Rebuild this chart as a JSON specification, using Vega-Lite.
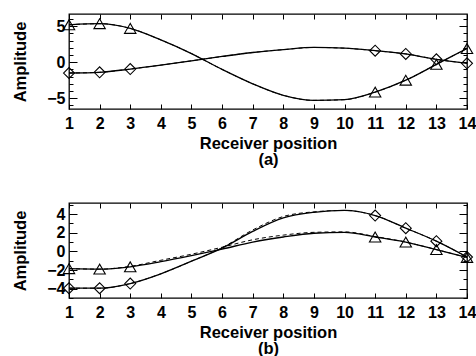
{
  "$schema": "https://vega.github.io/schema/vega-lite/v6.json",
  "padding": {"left": 12, "top": 12, "right": 0, "bottom": 0},
  "background": "white",
  "config": {
    "view": {"stroke": "black", "strokeWidth": 1.3},
    "font": "Liberation Sans",
    "axis": {"grid": false, "domain": false, "labelFont": "Liberation Sans", "titleFont": "Liberation Sans", "labelColor": "black", "titleColor": "black", "tickColor": "black", "labelFontWeight": "bold", "titleFontWeight": "bold", "labelFontSize": 16, "titleFontSize": 16.5, "labelFlush": false, "labelOverlap": false}
  },
  "datasets": {
    "curves": [
      {"panel": "a", "series": "tri", "run": "measured", "x": 1, "y": 5.2},
      {"panel": "a", "series": "tri", "run": "measured", "x": 2, "y": 5.35},
      {"panel": "a", "series": "tri", "run": "measured", "x": 3, "y": 4.7},
      {"panel": "a", "series": "tri", "run": "measured", "x": 4, "y": 3.1},
      {"panel": "a", "series": "tri", "run": "measured", "x": 5, "y": 1.2},
      {"panel": "a", "series": "tri", "run": "measured", "x": 6, "y": -1.0},
      {"panel": "a", "series": "tri", "run": "measured", "x": 7, "y": -3.0},
      {"panel": "a", "series": "tri", "run": "measured", "x": 8, "y": -4.6},
      {"panel": "a", "series": "tri", "run": "measured", "x": 9, "y": -5.3},
      {"panel": "a", "series": "tri", "run": "measured", "x": 10, "y": -5.2},
      {"panel": "a", "series": "tri", "run": "measured", "x": 11, "y": -4.15},
      {"panel": "a", "series": "tri", "run": "measured", "x": 12, "y": -2.5},
      {"panel": "a", "series": "tri", "run": "measured", "x": 13, "y": -0.3},
      {"panel": "a", "series": "tri", "run": "measured", "x": 14, "y": 1.9},
      {"panel": "a", "series": "dia", "run": "measured", "x": 1, "y": -1.5},
      {"panel": "a", "series": "dia", "run": "measured", "x": 2, "y": -1.4},
      {"panel": "a", "series": "dia", "run": "measured", "x": 3, "y": -0.95},
      {"panel": "a", "series": "dia", "run": "measured", "x": 4, "y": -0.4},
      {"panel": "a", "series": "dia", "run": "measured", "x": 5, "y": 0.2},
      {"panel": "a", "series": "dia", "run": "measured", "x": 6, "y": 0.8},
      {"panel": "a", "series": "dia", "run": "measured", "x": 7, "y": 1.35},
      {"panel": "a", "series": "dia", "run": "measured", "x": 8, "y": 1.75},
      {"panel": "a", "series": "dia", "run": "measured", "x": 9, "y": 2.05},
      {"panel": "a", "series": "dia", "run": "measured", "x": 10, "y": 1.95},
      {"panel": "a", "series": "dia", "run": "measured", "x": 11, "y": 1.6},
      {"panel": "a", "series": "dia", "run": "measured", "x": 12, "y": 1.15},
      {"panel": "a", "series": "dia", "run": "measured", "x": 13, "y": 0.4},
      {"panel": "a", "series": "dia", "run": "measured", "x": 14, "y": -0.15},
      {"panel": "a", "series": "tri", "run": "model", "x": 1, "y": 5.2},
      {"panel": "a", "series": "tri", "run": "model", "x": 2, "y": 5.35},
      {"panel": "a", "series": "tri", "run": "model", "x": 3, "y": 4.7},
      {"panel": "a", "series": "tri", "run": "model", "x": 4, "y": 3.1},
      {"panel": "a", "series": "tri", "run": "model", "x": 5, "y": 1.2},
      {"panel": "a", "series": "tri", "run": "model", "x": 6, "y": -1.0},
      {"panel": "a", "series": "tri", "run": "model", "x": 7, "y": -3.0},
      {"panel": "a", "series": "tri", "run": "model", "x": 8, "y": -4.6},
      {"panel": "a", "series": "tri", "run": "model", "x": 9, "y": -5.3},
      {"panel": "a", "series": "tri", "run": "model", "x": 10, "y": -5.2},
      {"panel": "a", "series": "tri", "run": "model", "x": 11, "y": -4.15},
      {"panel": "a", "series": "tri", "run": "model", "x": 12, "y": -2.5},
      {"panel": "a", "series": "tri", "run": "model", "x": 13, "y": -0.3},
      {"panel": "a", "series": "tri", "run": "model", "x": 14, "y": 1.9},
      {"panel": "a", "series": "dia", "run": "model", "x": 1, "y": -1.5},
      {"panel": "a", "series": "dia", "run": "model", "x": 2, "y": -1.4},
      {"panel": "a", "series": "dia", "run": "model", "x": 3, "y": -0.95},
      {"panel": "a", "series": "dia", "run": "model", "x": 4, "y": -0.4},
      {"panel": "a", "series": "dia", "run": "model", "x": 5, "y": 0.2},
      {"panel": "a", "series": "dia", "run": "model", "x": 6, "y": 0.8},
      {"panel": "a", "series": "dia", "run": "model", "x": 7, "y": 1.35},
      {"panel": "a", "series": "dia", "run": "model", "x": 8, "y": 1.75},
      {"panel": "a", "series": "dia", "run": "model", "x": 9, "y": 2.05},
      {"panel": "a", "series": "dia", "run": "model", "x": 10, "y": 1.95},
      {"panel": "a", "series": "dia", "run": "model", "x": 11, "y": 1.6},
      {"panel": "a", "series": "dia", "run": "model", "x": 12, "y": 1.15},
      {"panel": "a", "series": "dia", "run": "model", "x": 13, "y": 0.4},
      {"panel": "a", "series": "dia", "run": "model", "x": 14, "y": -0.15},
      {"panel": "b", "series": "tri", "run": "measured", "x": 1, "y": -1.85},
      {"panel": "b", "series": "tri", "run": "measured", "x": 2, "y": -1.9},
      {"panel": "b", "series": "tri", "run": "measured", "x": 3, "y": -1.65},
      {"panel": "b", "series": "tri", "run": "measured", "x": 4, "y": -1.1},
      {"panel": "b", "series": "tri", "run": "measured", "x": 5, "y": -0.45},
      {"panel": "b", "series": "tri", "run": "measured", "x": 6, "y": 0.25},
      {"panel": "b", "series": "tri", "run": "measured", "x": 7, "y": 1.0},
      {"panel": "b", "series": "tri", "run": "measured", "x": 8, "y": 1.55},
      {"panel": "b", "series": "tri", "run": "measured", "x": 9, "y": 1.95},
      {"panel": "b", "series": "tri", "run": "measured", "x": 10, "y": 2.05},
      {"panel": "b", "series": "tri", "run": "measured", "x": 11, "y": 1.55},
      {"panel": "b", "series": "tri", "run": "measured", "x": 12, "y": 1.0},
      {"panel": "b", "series": "tri", "run": "measured", "x": 13, "y": 0.2},
      {"panel": "b", "series": "tri", "run": "measured", "x": 14, "y": -0.65},
      {"panel": "b", "series": "dia", "run": "measured", "x": 1, "y": -3.95},
      {"panel": "b", "series": "dia", "run": "measured", "x": 2, "y": -3.95},
      {"panel": "b", "series": "dia", "run": "measured", "x": 3, "y": -3.45},
      {"panel": "b", "series": "dia", "run": "measured", "x": 4, "y": -2.4},
      {"panel": "b", "series": "dia", "run": "measured", "x": 5, "y": -1.05},
      {"panel": "b", "series": "dia", "run": "measured", "x": 6, "y": 0.35},
      {"panel": "b", "series": "dia", "run": "measured", "x": 7, "y": 2.15},
      {"panel": "b", "series": "dia", "run": "measured", "x": 8, "y": 3.6},
      {"panel": "b", "series": "dia", "run": "measured", "x": 9, "y": 4.2},
      {"panel": "b", "series": "dia", "run": "measured", "x": 10, "y": 4.4},
      {"panel": "b", "series": "dia", "run": "measured", "x": 11, "y": 3.85},
      {"panel": "b", "series": "dia", "run": "measured", "x": 12, "y": 2.5},
      {"panel": "b", "series": "dia", "run": "measured", "x": 13, "y": 1.1},
      {"panel": "b", "series": "dia", "run": "measured", "x": 14, "y": -0.6},
      {"panel": "b", "series": "tri", "run": "model", "x": 1, "y": -1.85},
      {"panel": "b", "series": "tri", "run": "model", "x": 2, "y": -1.9},
      {"panel": "b", "series": "tri", "run": "model", "x": 3, "y": -1.6},
      {"panel": "b", "series": "tri", "run": "model", "x": 4, "y": -0.95},
      {"panel": "b", "series": "tri", "run": "model", "x": 5, "y": -0.3},
      {"panel": "b", "series": "tri", "run": "model", "x": 6, "y": 0.45},
      {"panel": "b", "series": "tri", "run": "model", "x": 7, "y": 1.25},
      {"panel": "b", "series": "tri", "run": "model", "x": 8, "y": 1.75},
      {"panel": "b", "series": "tri", "run": "model", "x": 9, "y": 2.05},
      {"panel": "b", "series": "tri", "run": "model", "x": 10, "y": 2.1},
      {"panel": "b", "series": "tri", "run": "model", "x": 11, "y": 1.6},
      {"panel": "b", "series": "tri", "run": "model", "x": 12, "y": 1.0},
      {"panel": "b", "series": "tri", "run": "model", "x": 13, "y": 0.2},
      {"panel": "b", "series": "tri", "run": "model", "x": 14, "y": -0.65},
      {"panel": "b", "series": "dia", "run": "model", "x": 1, "y": -3.95},
      {"panel": "b", "series": "dia", "run": "model", "x": 2, "y": -3.95},
      {"panel": "b", "series": "dia", "run": "model", "x": 3, "y": -3.45},
      {"panel": "b", "series": "dia", "run": "model", "x": 4, "y": -2.4},
      {"panel": "b", "series": "dia", "run": "model", "x": 5, "y": -1.05},
      {"panel": "b", "series": "dia", "run": "model", "x": 6, "y": 0.4},
      {"panel": "b", "series": "dia", "run": "model", "x": 7, "y": 2.3},
      {"panel": "b", "series": "dia", "run": "model", "x": 8, "y": 3.75},
      {"panel": "b", "series": "dia", "run": "model", "x": 9, "y": 4.25},
      {"panel": "b", "series": "dia", "run": "model", "x": 10, "y": 4.4},
      {"panel": "b", "series": "dia", "run": "model", "x": 11, "y": 3.85},
      {"panel": "b", "series": "dia", "run": "model", "x": 12, "y": 2.5},
      {"panel": "b", "series": "dia", "run": "model", "x": 13, "y": 1.1},
      {"panel": "b", "series": "dia", "run": "model", "x": 14, "y": -0.6}
    ],
    "markers": [
      {"panel": "a", "series": "tri", "x": 1, "y": 5.2},
      {"panel": "a", "series": "tri", "x": 2, "y": 5.35},
      {"panel": "a", "series": "tri", "x": 3, "y": 4.7},
      {"panel": "a", "series": "tri", "x": 11, "y": -4.15},
      {"panel": "a", "series": "tri", "x": 12, "y": -2.5},
      {"panel": "a", "series": "tri", "x": 13, "y": -0.3},
      {"panel": "a", "series": "tri", "x": 14, "y": 1.9},
      {"panel": "a", "series": "dia", "x": 1, "y": -1.5},
      {"panel": "a", "series": "dia", "x": 2, "y": -1.4},
      {"panel": "a", "series": "dia", "x": 3, "y": -0.95},
      {"panel": "a", "series": "dia", "x": 11, "y": 1.6},
      {"panel": "a", "series": "dia", "x": 12, "y": 1.15},
      {"panel": "a", "series": "dia", "x": 13, "y": 0.4},
      {"panel": "a", "series": "dia", "x": 14, "y": -0.15},
      {"panel": "b", "series": "tri", "x": 1, "y": -1.85},
      {"panel": "b", "series": "tri", "x": 2, "y": -1.9},
      {"panel": "b", "series": "tri", "x": 3, "y": -1.65},
      {"panel": "b", "series": "tri", "x": 11, "y": 1.55},
      {"panel": "b", "series": "tri", "x": 12, "y": 1.0},
      {"panel": "b", "series": "tri", "x": 13, "y": 0.2},
      {"panel": "b", "series": "tri", "x": 14, "y": -0.65},
      {"panel": "b", "series": "dia", "x": 1, "y": -3.95},
      {"panel": "b", "series": "dia", "x": 2, "y": -3.95},
      {"panel": "b", "series": "dia", "x": 3, "y": -3.45},
      {"panel": "b", "series": "dia", "x": 11, "y": 3.85},
      {"panel": "b", "series": "dia", "x": 12, "y": 2.5},
      {"panel": "b", "series": "dia", "x": 13, "y": 1.1},
      {"panel": "b", "series": "dia", "x": 14, "y": -0.6}
    ]
  },
  "spacing": 32,
  "vconcat": [
    {
      "width": 398,
      "height": 95,
      "resolve": {"axis": {"x": "independent", "y": "independent"}},
      "layer": [
        {
          "data": {"name": "curves"},
          "transform": [{"filter": "datum.panel == 'a' && datum.run == 'measured' && datum.series == 'tri'"}],
          "mark": {"type": "line", "interpolate": "monotone", "color": "black", "strokeWidth": 1.3},
          "encoding": {
            "x": {"field": "x", "type": "quantitative", "scale": {"domain": [1, 14], "nice": false, "zero": false},
              "axis": {"orient": "bottom", "values": [1,2,3,4,5,6,7,8,9,10,11,12,13,14], "ticks": false, "labelPadding": 6, "title": ["Receiver position", "(a)"], "titleLineHeight": 16, "titlePadding": 4}},
            "y": {"field": "y", "type": "quantitative", "scale": {"domain": [-6.5, 6.7], "nice": false, "zero": false},
              "axis": {"orient": "left", "values": [-5, 0, 5], "ticks": false, "labelPadding": 4, "title": "Amplitude", "titlePadding": 18}}
          }
        },
        {
          "data": {"name": "curves"},
          "transform": [{"filter": "datum.panel == 'a' && datum.run == 'measured' && datum.series == 'dia'"}],
          "mark": {"type": "line", "interpolate": "monotone", "color": "black", "strokeWidth": 1.3},
          "encoding": {
            "x": {"field": "x", "type": "quantitative", "scale": {"domain": [1, 14], "nice": false, "zero": false},
              "axis": {"orient": "bottom", "values": [1,2,3,4,5,6,7,8,9,10,11,12,13,14], "labels": false, "tickSize": -5, "title": null}},
            "y": {"field": "y", "type": "quantitative", "scale": {"domain": [-6.5, 6.7], "nice": false, "zero": false},
              "axis": {"orient": "left", "values": [-5, 0, 5], "labels": false, "tickSize": -8, "title": null}}
          }
        },
        {
          "data": {"name": "curves"},
          "transform": [{"filter": "datum.panel == 'a' && datum.run == 'model'"}],
          "mark": {"type": "line", "interpolate": "monotone", "color": "black", "strokeWidth": 1, "strokeDash": [4, 3]},
          "encoding": {
            "detail": {"field": "series"},
            "x": {"field": "x", "type": "quantitative", "scale": {"domain": [1, 14], "nice": false, "zero": false},
              "axis": {"orient": "top", "values": [1,2,3,4,5,6,7,8,9,10,11,12,13,14], "labels": false, "tickSize": -5, "title": null}},
            "y": {"field": "y", "type": "quantitative", "scale": {"domain": [-6.5, 6.7], "nice": false, "zero": false},
              "axis": {"orient": "left", "values": [-6,-4,-3,-2,-1,1,2,3,4,6], "labels": false, "tickSize": -4, "title": null}}
          }
        },
        {
          "data": {"name": "markers"},
          "transform": [{"filter": "datum.panel == 'a' && datum.series == 'tri'"}],
          "mark": {"type": "point", "shape": "triangle-up", "filled": false, "color": "black", "size": 130, "strokeWidth": 1.1, "opacity": 1},
          "encoding": {
            "x": {"field": "x", "type": "quantitative", "scale": {"domain": [1, 14], "nice": false, "zero": false}, "axis": null},
            "y": {"field": "y", "type": "quantitative", "scale": {"domain": [-6.5, 6.7], "nice": false, "zero": false},
              "axis": {"orient": "right", "values": [-5, 0, 5], "labels": false, "tickSize": -8, "title": null}}
          }
        },
        {
          "data": {"name": "markers"},
          "transform": [{"filter": "datum.panel == 'a' && datum.series == 'dia'"}],
          "mark": {"type": "point", "shape": "diamond", "filled": false, "color": "black", "size": 120, "strokeWidth": 1.1, "opacity": 1},
          "encoding": {
            "x": {"field": "x", "type": "quantitative", "scale": {"domain": [1, 14], "nice": false, "zero": false}, "axis": null},
            "y": {"field": "y", "type": "quantitative", "scale": {"domain": [-6.5, 6.7], "nice": false, "zero": false},
              "axis": {"orient": "right", "values": [-6,-4,-3,-2,-1,1,2,3,4,6], "labels": false, "tickSize": -4, "title": null}}
          }
        }
      ]
    },
    {
      "width": 398,
      "height": 95,
      "resolve": {"axis": {"x": "independent", "y": "independent"}},
      "layer": [
        {
          "data": {"name": "curves"},
          "transform": [{"filter": "datum.panel == 'b' && datum.run == 'measured' && datum.series == 'tri'"}],
          "mark": {"type": "line", "interpolate": "monotone", "color": "black", "strokeWidth": 1.3},
          "encoding": {
            "x": {"field": "x", "type": "quantitative", "scale": {"domain": [1, 14], "nice": false, "zero": false},
              "axis": {"orient": "bottom", "values": [1,2,3,4,5,6,7,8,9,10,11,12,13,14], "ticks": false, "labelPadding": 6, "title": ["Receiver position", "(b)"], "titleLineHeight": 16, "titlePadding": 4}},
            "y": {"field": "y", "type": "quantitative", "scale": {"domain": [-5, 5.2], "nice": false, "zero": false},
              "axis": {"orient": "left", "values": [-4, -2, 0, 2, 4], "ticks": false, "labelPadding": 4, "title": "Amplitude", "titlePadding": 18}}
          }
        },
        {
          "data": {"name": "curves"},
          "transform": [{"filter": "datum.panel == 'b' && datum.run == 'measured' && datum.series == 'dia'"}],
          "mark": {"type": "line", "interpolate": "monotone", "color": "black", "strokeWidth": 1.3},
          "encoding": {
            "x": {"field": "x", "type": "quantitative", "scale": {"domain": [1, 14], "nice": false, "zero": false},
              "axis": {"orient": "bottom", "values": [1,2,3,4,5,6,7,8,9,10,11,12,13,14], "labels": false, "tickSize": -5, "title": null}},
            "y": {"field": "y", "type": "quantitative", "scale": {"domain": [-5, 5.2], "nice": false, "zero": false},
              "axis": {"orient": "left", "values": [-4, -2, 0, 2, 4], "labels": false, "tickSize": -8, "title": null}}
          }
        },
        {
          "data": {"name": "curves"},
          "transform": [{"filter": "datum.panel == 'b' && datum.run == 'model'"}],
          "mark": {"type": "line", "interpolate": "monotone", "color": "black", "strokeWidth": 1, "strokeDash": [4, 3]},
          "encoding": {
            "detail": {"field": "series"},
            "x": {"field": "x", "type": "quantitative", "scale": {"domain": [1, 14], "nice": false, "zero": false},
              "axis": {"orient": "top", "values": [1,2,3,4,5,6,7,8,9,10,11,12,13,14], "labels": false, "tickSize": -5, "title": null}},
            "y": {"field": "y", "type": "quantitative", "scale": {"domain": [-5, 5.2], "nice": false, "zero": false},
              "axis": {"orient": "left", "values": [-5,-3,-1,1,3,5], "labels": false, "tickSize": -4, "title": null}}
          }
        },
        {
          "data": {"name": "markers"},
          "transform": [{"filter": "datum.panel == 'b' && datum.series == 'tri'"}],
          "mark": {"type": "point", "shape": "triangle-up", "filled": false, "color": "black", "size": 130, "strokeWidth": 1.1, "opacity": 1},
          "encoding": {
            "x": {"field": "x", "type": "quantitative", "scale": {"domain": [1, 14], "nice": false, "zero": false}, "axis": null},
            "y": {"field": "y", "type": "quantitative", "scale": {"domain": [-5, 5.2], "nice": false, "zero": false},
              "axis": {"orient": "right", "values": [-4, -2, 0, 2, 4], "labels": false, "tickSize": -8, "title": null}}
          }
        },
        {
          "data": {"name": "markers"},
          "transform": [{"filter": "datum.panel == 'b' && datum.series == 'dia'"}],
          "mark": {"type": "point", "shape": "diamond", "filled": false, "color": "black", "size": 120, "strokeWidth": 1.1, "opacity": 1},
          "encoding": {
            "x": {"field": "x", "type": "quantitative", "scale": {"domain": [1, 14], "nice": false, "zero": false}, "axis": null},
            "y": {"field": "y", "type": "quantitative", "scale": {"domain": [-5, 5.2], "nice": false, "zero": false},
              "axis": {"orient": "right", "values": [-5,-3,-1,1,3,5], "labels": false, "tickSize": -4, "title": null}}
          }
        }
      ]
    }
  ]
}
